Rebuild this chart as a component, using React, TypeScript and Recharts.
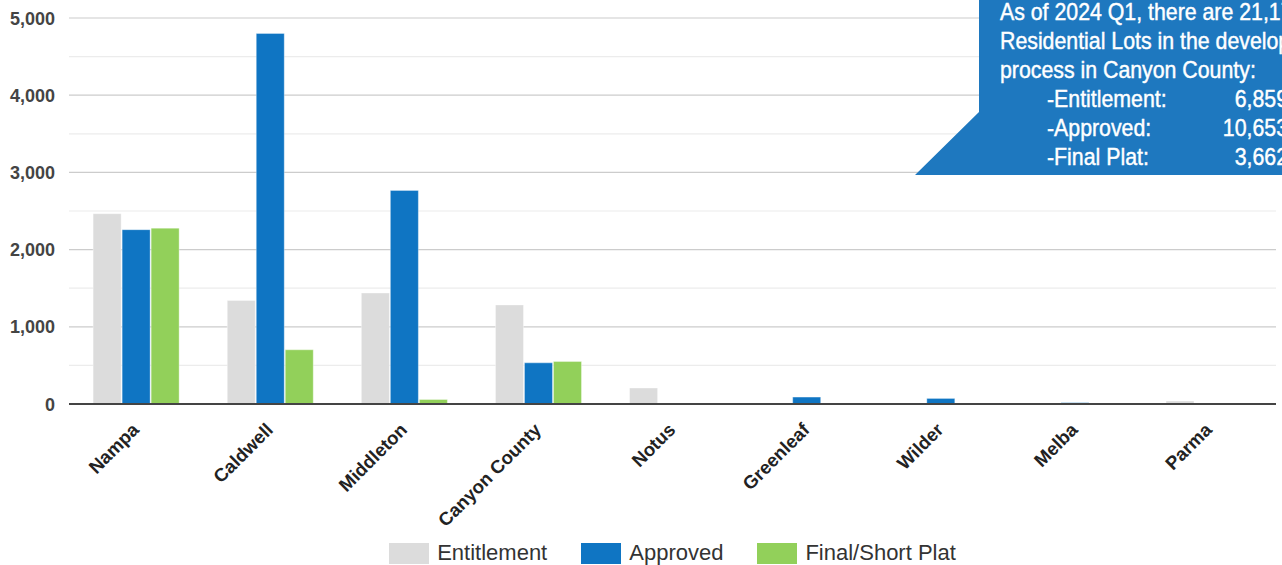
import React from "react";
import { BarChart, Bar, XAxis, YAxis, CartesianGrid, Legend } from "recharts";

const categories = ["Nampa", "Caldwell", "Middleton", "Canyon County", "Notus", "Greenleaf", "Wilder", "Melba", "Parma"];
const entitlement = [2465, 1341, 1438, 1283, 207, 0, 0, 0, 39];
const approved = [2258, 4800, 2767, 533, 0, 90, 72, 17, 0];
const finalPlat = [2278, 702, 58, 550, 0, 0, 0, 6, 0];
const yTicks = [0, 1000, 2000, 3000, 4000, 5000];
const minorGrid = [500, 1500, 2500, 3500, 4500];
const seriesKeys = ["entitlement", "approved", "finalPlat"];
const seriesNames = ["Entitlement", "Approved", "Final/Short Plat"];
const seriesColors = ["#dcdcdc", "#0f75c3", "#92d05a"];
const calloutLines = ["As of 2024 Q1, there are 21,174", "Residential Lots in the development", "process in Canyon County:"];
const calloutLabels = ["-Entitlement:", "-Approved:", "-Final Plat:"];
const calloutValues = ["6,859", "10,653", "3,662"];

const data = categories.map((c, i) => ({
  name: c,
  entitlement: entitlement[i],
  approved: approved[i],
  finalPlat: finalPlat[i],
}));

const FONT = "'Liberation Sans', Arial, sans-serif";

const XTick = (props: any) => {
  const { x, y, payload } = props;
  const ax = x + 4;
  const ay = y + 19;
  return (
    <text
      x={ax}
      y={ay}
      transform={`rotate(-45 ${ax} ${ay})`}
      textAnchor="end"
      fontFamily={FONT}
      fontWeight="bold"
      fontSize={18.5}
      fill="#222"
    >
      {payload.value}
    </text>
  );
};

const YTick = (props: any) => {
  const { x, y, payload } = props;
  return (
    <text
      x={x}
      y={y}
      dy={6.5}
      textAnchor="end"
      fontFamily={FONT}
      fontWeight="bold"
      fontSize={18}
      fill="#444"
    >
      {payload.value.toLocaleString("en-US")}
    </text>
  );
};

const LegendContent = () => (
  <div
    style={{
      display: "flex",
      justifyContent: "center",
      alignItems: "center",
      height: 24,
      paddingLeft: 69,
      fontFamily: FONT,
      fontSize: 22,
      color: "#333",
    }}
  >
    {seriesNames.map((n, i) => (
      <div key={n} style={{ display: "flex", alignItems: "center", marginRight: i < 2 ? 34 : 0 }}>
        <div style={{ width: 40, height: 21, background: seriesColors[i], marginRight: 8 }} />
        <span>{n}</span>
      </div>
    ))}
  </div>
);

const SX = 0.87;

const Callout = () => (
  <svg
    width={1282}
    height={565}
    style={{ position: "absolute", left: 0, top: 0, pointerEvents: "none" }}
  >
    <polygon points="979,0 1282,0 1282,175 915,175 979,112" fill="#1e78bf" />
    <g
      transform={`scale(${SX},1)`}
      fontFamily={FONT}
      fontSize={24.5}
      fill="#fff"
      stroke="#fff"
      strokeWidth={0.45}
    >
      {calloutLines.map((t, i) => (
        <text key={t} x={1000 / SX} y={20 + i * 29}>
          {t}
        </text>
      ))}
      {calloutLabels.map((t, i) => (
        <text key={t} x={1047 / SX} y={107 + i * 29}>
          {t}
        </text>
      ))}
      {calloutValues.map((t, i) => (
        <text key={t} x={1288 / SX} y={107 + i * 29} textAnchor="end">
          {t}
        </text>
      ))}
    </g>
  </svg>
);

export default function App() {
  return (
    <div style={{ position: "relative", width: 1282, height: 565, overflow: "hidden" }}>
      <style>{`body{margin:0;}`}</style>
      <BarChart
        width={1282}
        height={565}
        data={data}
        margin={{ top: 18, right: 6, bottom: 0, left: 0 }}
        barCategoryGap="18%"
        barGap={1}
      >
        <CartesianGrid vertical={false} horizontalValues={minorGrid} stroke="#ececec" strokeWidth={1.2} />
        <CartesianGrid vertical={false} horizontalValues={yTicks} stroke="#cccccc" strokeWidth={1.2} />
        <XAxis
          dataKey="name"
          interval={0}
          height={137}
          tickLine={false}
          axisLine={{ stroke: "#444", strokeWidth: 2 }}
          tick={<XTick />}
        />
        <YAxis
          width={69}
          domain={[0, 5000]}
          ticks={yTicks}
          tickSize={0}
          tickMargin={14}
          axisLine={false}
          tickLine={false}
          tick={<YTick />}
        />
        <Legend verticalAlign="bottom" content={<LegendContent />} wrapperStyle={{ bottom: 0 }} />
        {seriesKeys.map((k, i) => (
          <Bar
            key={k}
            dataKey={k}
            name={seriesNames[i]}
            fill={seriesColors[i]}
            stroke="rgba(255,255,255,0.35)"
            strokeWidth={1}
            isAnimationActive={false}
          />
        ))}
      </BarChart>
      <Callout />
    </div>
  );
}
